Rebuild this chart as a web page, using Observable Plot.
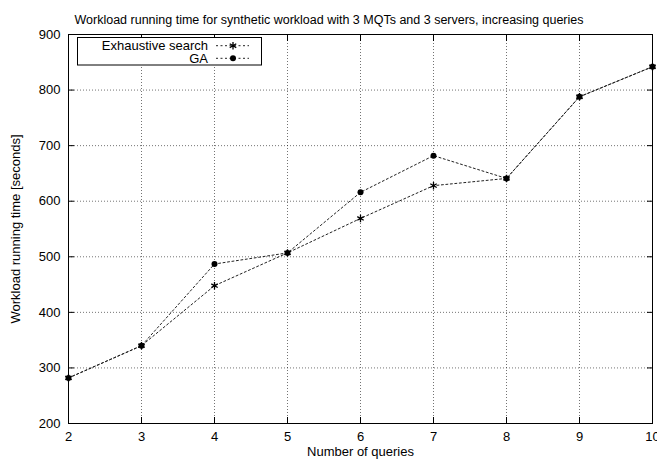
<!DOCTYPE html>
<html>
<head>
<meta charset="utf-8">
<script src="https://cdn.jsdelivr.net/npm/d3@7"></script>
<script src="https://cdn.jsdelivr.net/npm/@observablehq/plot@0.6"></script>
<style>
  html, body { margin: 0; padding: 0; background: #fff; }
  #wrap { position: relative; width: 657px; height: 466px; font-family: "Liberation Sans", Arial, sans-serif; }
  #legend { position: absolute; left: 0; top: 0; pointer-events: none; }
</style>
</head>
<body>
<div id="wrap"></div>
<script>
const title = "Workload running time for synthetic workload with 3 MQTs and 3 servers, increasing queries";
const xLabel = "Number of queries";
const yLabel = "Workload running time [seconds]";
const queries = [2, 3, 4, 5, 6, 7, 8, 9, 10];
const exhaustive = [282, 340, 448, 507, 569, 628, 641, 788, 842];
const ga = [282, 340, 487, 507, 616, 682, 641, 788, 842];
const seriesNames = ["Exhaustive search", "GA"];
const yTicks = [200, 300, 400, 500, 600, 700, 800, 900];

const rows = [];
queries.forEach((q, i) => {
  rows.push({series: seriesNames[0], q, v: exhaustive[i]});
  rows.push({series: seriesNames[1], q, v: ga[i]});
});
const exRows = rows.filter(d => d.series === seriesNames[0]);
const gaRows = rows.filter(d => d.series === seriesNames[1]);

const font = "Liberation Sans, Arial, sans-serif";
const lineStyle = {stroke: "#222", strokeWidth: 1, strokeDasharray: "2,2.5"};
const gridStyle = {stroke: "#000", strokeOpacity: 0.55, strokeDasharray: "1,2"};

const chart = Plot.plot({
  width: 657,
  height: 466,
  marginTop: 34,
  marginBottom: 43,
  marginLeft: 68,
  marginRight: 5,
  style: {fontFamily: font, fontSize: "13px", background: "#fff", color: "#000"},
  x: {domain: [2, 10], ticks: queries, label: null},
  y: {domain: [200, 900], ticks: yTicks, label: null},
  marks: [
    Plot.gridX(queries, gridStyle),
    Plot.gridY(yTicks, gridStyle),
    Plot.axisX(queries, {anchor: "bottom", tickSize: -6, tickPadding: 14, fontSize: 13, label: null}),
    Plot.axisX(queries, {anchor: "top", tickSize: -6, tickFormat: () => "", label: null}),
    Plot.axisY(yTicks, {anchor: "left", tickSize: -6, tickPadding: 14, fontSize: 13, label: null}),
    Plot.axisY(yTicks, {anchor: "right", tickSize: -6, tickFormat: () => "", label: null}),
    Plot.line(exRows, {x: "q", y: "v", ...lineStyle}),
    Plot.line(gaRows, {x: "q", y: "v", ...lineStyle}),
    Plot.dot(exRows, {x: "q", y: "v", symbol: "asterisk", r: 3.5, stroke: "#000", strokeWidth: 1.3}),
    Plot.dot(gaRows, {x: "q", y: "v", symbol: "circle", r: 3, fill: "#000", stroke: "none"}),
    Plot.frame({stroke: "#000", strokeWidth: 1}),
    Plot.text([title], {frameAnchor: "top", dx: -31.5, dy: -19, fontSize: 12.5, text: d => d}),
    Plot.text([xLabel], {frameAnchor: "bottom", dy: 32, fontSize: 13, text: d => d}),
    Plot.text([yLabel], {frameAnchor: "left", dx: -53, rotate: -90, textAnchor: "middle", fontSize: 13, text: d => d})
  ]
});
document.getElementById("wrap").appendChild(chart);

// Legend overlay (gnuplot-style key box)
const lg = d3.select("#wrap").append("svg")
  .attr("id", "legend").attr("width", 657).attr("height", 466)
  .style("font-family", font).style("font-size", "13px");
const box = {x: 77, y: 37.5, w: 184, h: 27.5};
lg.append("rect").attr("x", box.x + 0.5).attr("y", box.y).attr("width", box.w).attr("height", box.h)
  .attr("fill", "#fff").attr("stroke", "#000").attr("stroke-width", 1);
const sym = [d3.symbolAsterisk, d3.symbolCircle];
seriesNames.forEach((name, i) => {
  const cy = 45.7 + i * 12.6;
  lg.append("text").attr("x", 208).attr("y", cy).attr("dy", "0.35em").attr("text-anchor", "end").text(name);
  lg.append("line").attr("x1", 216).attr("x2", 249).attr("y1", cy).attr("y2", cy)
    .attr("stroke", "#222").attr("stroke-dasharray", "2,2.5");
  const p = lg.append("path").attr("transform", `translate(233,${cy})`)
    .attr("d", d3.symbol(sym[i], i === 0 ? 40 : 28)());
  if (i === 0) p.attr("fill", "none").attr("stroke", "#000").attr("stroke-width", 1.3);
  else p.attr("fill", "#000");
});
</script>
</body>
</html>
